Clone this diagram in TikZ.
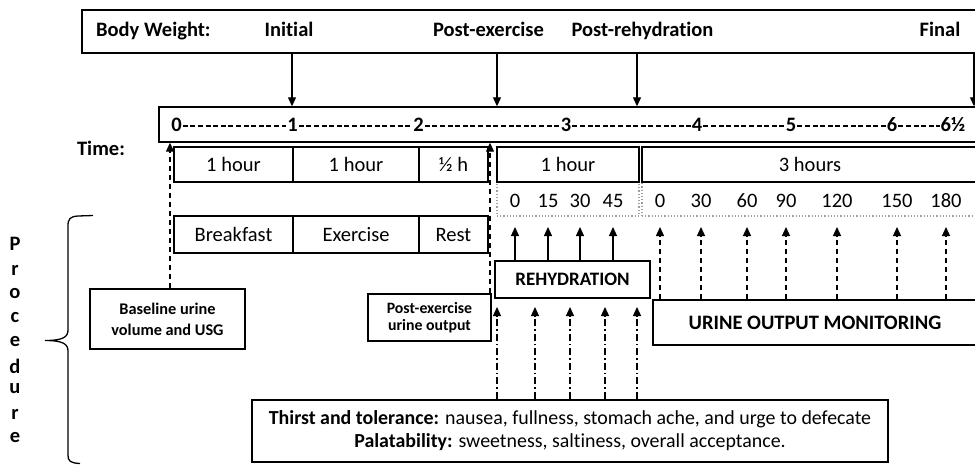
\documentclass[tikz,border=0pt]{standalone}
\usepackage{fontspec}
\setmainfont[Ligatures=NoCommon]{Carlito}
\usetikzlibrary{arrows.meta}
\newcommand\fA{\fontsize{20.5}{23}\selectfont}
\newcommand\fB{\fontsize{16.3}{21}\selectfont}
\newcommand\fC{\fontsize{15.8}{16.5}\selectfont}
\tikzset{
  box/.style={draw, line width=1.4pt, inner sep=0pt, font=\fA},
  thick box/.style={draw, line width=2.4pt, inner sep=0pt},
  dotbox/.style={draw=gray!75, dotted, line width=1.2pt, inner sep=0pt},
  lbl/.style={inner sep=0pt, font=\fA\bfseries},
  num/.style={inner sep=1pt, font=\fA\bfseries},
  mins/.style={inner sep=0pt, font=\fA},
  tip/.style={-{Triangle[length=9pt,width=8pt]}},
  arr/.style={tip, line width=1.2pt},
  darr/.style={tip, line width=1.3pt, dash pattern=on 5pt off 4pt},
  ddarr/.style={tip, line width=1.3pt, dash pattern=on 7pt off 3pt on 1.5pt off 3pt},
  tdash/.style={line width=1.5pt, dash pattern=on 5pt off 2.6pt}
}
\begin{document}
\begin{tikzpicture}[x=1pt,y=-1pt]
\useasboundingbox (0,0) rectangle (975,464);
\clip (0,0) rectangle (975,464);
\fill[white] (0,0) rectangle (975,464);

% top body weight box
\node[box, line width=2pt, minimum width=908pt, minimum height=43pt] (top) at (536,31.5) {};
\node[lbl, anchor=base west] (bw) at (96,36.5) {Body Weight:};
\node[lbl, anchor=base] (lI) at (289,36.5) {Initial};
\node[lbl, anchor=base] (lPE) at (488.5,36.5) {Post-exercise};
\node[lbl, anchor=base] (lPR) at (642.5,36.5) {Post-rehydration};
\node[lbl, anchor=base] (lF) at (940,36.5) {Final};

% timeline
\node[box, minimum width=831pt, minimum height=35pt] (tl) at (574.5,124.5) {};
\node[num] (t0) at (176.5,125) {0};
\node[num] (t1) at (292.5,125) {1};
\node[num] (t2) at (418.5,125) {2};
\node[num] (t3) at (566,125) {3};
\node[num] (t4) at (697,125) {4};
\node[num] (t5) at (791,125) {5};
\node[num] (t6) at (892,125) {6};
\node[num] (t7) at (953,125) {6½};
\foreach \a/\b in {t0/t1,t1/t2,t2/t3,t3/t4,t4/t5,t5/t6,t6/t7}
  \draw[tdash] ([yshift=-1pt]\a.east) -- ([yshift=-1pt]\b.west);

% arrow x positions for body weight
\coordinate (xI) at (292,0);
\coordinate (xPE) at (497,0);
\coordinate (xPR) at (637,0);
\coordinate (xF) at (974,0);
\foreach \c in {xI,xPE,xPR,xF}
  \draw[arr] (top.south -| \c) -- (tl.north -| \c);

\node[lbl] (time) at (101,148) {Time:};

% minute rows (dotted)
\node[dotbox, minimum width=142pt, minimum height=34pt] (m1) at (568,199) {};
\node[dotbox, minimum width=336pt, minimum height=34pt] (m2) at (810,199) {};

% hour row
\node[box, minimum width=119pt, minimum height=35pt] (h1) at (233.5,164.5) {1 hour};
\node[box, minimum width=126pt, minimum height=35pt] (h2) at (356,164.5) {1 hour};
\node[box, minimum width=69pt, minimum height=35pt] (h3) at (453.5,164.5) {½ h};
\node[box, minimum width=142pt, minimum height=35pt] (h4) at (568,164.5) {1 hour};
\node[box, minimum width=336pt, minimum height=35pt] (h5) at (810,164.5) {3 hours};

% minute labels
\node[mins] (a0) at (515,201) {0};
\node[mins] (a15) at (548,201) {15};
\node[mins] (a30) at (580,201) {30};
\node[mins] (a45) at (613,201) {45};
\node[mins] (b0) at (660,201) {0};
\node[mins] (b30) at (701,201) {30};
\node[mins] (b60) at (747,201) {60};
\node[mins] (b90) at (786,201) {90};
\node[mins] (b120) at (837,201) {120};
\node[mins] (b150) at (897,201) {150};
\node[mins] (b180) at (946,201) {180};
\coordinate (tiprow) at (0,227);

% activity row
\node[box, minimum width=119pt, minimum height=37pt] (bf) at (233.5,234.5) {Breakfast};
\node[box, minimum width=126pt, minimum height=37pt] (ex) at (356,234.5) {Exercise};
\node[box, minimum width=69pt, minimum height=37pt] (rest) at (453.5,234.5) {Rest};

% rehydration
\node[thick box, minimum width=155pt, minimum height=37pt, font=\fontsize{19}{20}\selectfont\bfseries] (reh) at (572.5,279.5) {REHYDRATION};
\foreach \m in {a0,a15,a30,a45}
  \draw[arr] (reh.north -| \m) -- (tiprow -| \m);

% urine output monitoring
\node[thick box, minimum width=324pt, minimum height=45pt, font=\fA\bfseries] (uom) at (815,322.5) {URINE OUTPUT MONITORING};
\foreach \m in {b0,b30,b60,b90,b120,b150,b180}
  \draw[darr] (uom.north -| \m) -- (tiprow -| \m);

% baseline box
\node[thick box, minimum width=155pt, minimum height=60pt, font=\fB\bfseries, align=center] (base) at (167.5,319) {Baseline urine\\volume and USG};
\coordinate (xB) at (170,0);
\draw[darr] (base.north -| xB) -- (tl.south -| xB);

% post-exercise urine output
\node[thick box, line width=2pt, minimum width=123pt, minimum height=47pt, font=\fC\bfseries, align=center] (peu) at (429.5,317.5) {Post-exercise\\urine output};
\coordinate (xP) at (490,0);
\draw[darr] (peu.north -| xP) -- (tl.south -| xP);

% bottom box
\node[thick box, minimum width=636pt, minimum height=62pt, font=\fontsize{19.9}{23}\selectfont, align=center] (bot) at (570,431)
  {\textbf{Thirst and tolerance:} nausea, fullness, stomach ache, and urge to defecate\\\textbf{Palatability:} sweetness, saltiness, overall acceptance.};
\coordinate (tip2) at (0,307);
\foreach \x [count=\i] in {497,535,570,605,637}
  \coordinate (d\i) at (\x,0);
\foreach \i in {1,...,5}
  \draw[ddarr] (bot.north -| d\i) -- (tip2 -| d\i);

% brace
\draw[line width=1.3pt] (93,215.5) -- (78,216) .. controls (70,216.5) and (68,219) .. (68,226) -- (68,330)
  .. controls (68,337) and (63,340.5) .. (45,340.5)
  .. controls (63,340.5) and (68,344) .. (68,351) -- (68,455) .. controls (68,461) and (70,463) .. (80,463.5);

% Procedure letters
\foreach \ch/\y [count=\k] in {P/244,r/270,o/294,c/318,e/342,d/366,u/389,r/414,e/438}
  \node[lbl] (p\k) at (15,\y) {\ch};
\end{tikzpicture}
\end{document}
